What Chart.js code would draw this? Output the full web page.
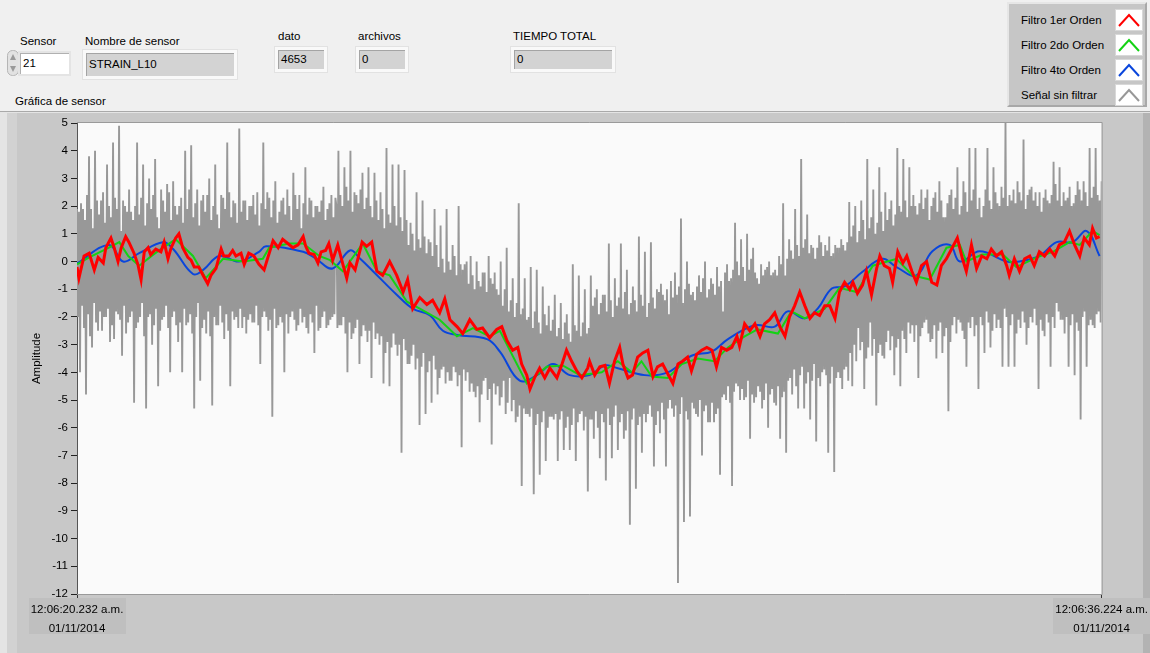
<!DOCTYPE html>
<html>
<head>
<meta charset="utf-8">
<title>Gráfica de sensor</title>
<script src="https://cdn.jsdelivr.net/npm/chart.js@4.4.1/dist/chart.umd.min.js"></script>
<style>
  html, body { margin: 0; padding: 0; }
  body {
    width: 1150px; height: 653px; overflow: hidden; position: relative;
    background: #f0f0f0; color: #000;
    font-family: 'Liberation Sans', Arial, sans-serif; font-size: 11.5px;
  }
  #chart { position: absolute; left: 0; top: 0; }
  .lbl { position: absolute; white-space: nowrap; line-height: 14px; }
  .ind {
    position: absolute; box-sizing: border-box; white-space: nowrap;
    background: #d3d3d3; border: 3px solid #f9f9f9;
    box-shadow: inset 1px 1px 0 #a4a4a4, 0 0 0 1px #e2e2e2;
    padding-left: 3px;
  }
  .ctl {
    position: absolute; box-sizing: border-box; background: #fff;
    border: 2px solid #e4e4e4; box-shadow: inset 1px 1px 0 #b0b0b0;
    padding-left: 3px; line-height: 20px;
  }
  #spin { position: absolute; left: 7px; top: 50px; }
  #legend {
    position: absolute; left: 1007px; top: 2px; width: 140px; height: 105px;
    box-sizing: border-box; background: #c6c6c6;
    border: 2px solid; border-color: #e6e6e6 #a8a8a8 #a8a8a8 #e6e6e6;
  }
  .row { position: absolute; left: 12px; height: 22px; width: 124px; }
  .row span { position: absolute; left: 0; top: 4px; line-height: 14px; }
  .row svg { position: absolute; left: 94px; top: 0; }
</style>
</head>
<body>

<div class="lbl" style="left:20px;top:34px">Sensor</div>
<svg id="spin" width="12" height="26">
  <rect x="0.5" y="0.5" width="11" height="25" rx="5" fill="#e2e2e2" stroke="#b5b5b5"/>
  <path d="M3 10 L6 4 L9 10 Z" fill="#9a9a9a"/>
  <path d="M3 16 L6 22 L9 16 Z" fill="#9a9a9a"/>
</svg>
<div class="ctl" style="left:18px;top:51px;width:53px;height:25px">21</div>

<div class="lbl" style="left:85px;top:34px">Nombre de sensor</div>
<div class="ind" style="left:83px;top:50px;width:154px;height:29px;line-height:22px">STRAIN_L10</div>

<div class="lbl" style="left:278px;top:29px">dato</div>
<div class="ind" style="left:275px;top:47px;width:52px;height:25px;line-height:18px">4653</div>

<div class="lbl" style="left:358px;top:29px">archivos</div>
<div class="ind" style="left:356px;top:47px;width:52px;height:25px;line-height:18px">0</div>

<div class="lbl" style="left:513px;top:29px">TIEMPO TOTAL</div>
<div class="ind" style="left:511px;top:47px;width:104px;height:25px;line-height:18px">0</div>

<div class="lbl" style="left:15px;top:94px">Gráfica de sensor</div>

<div id="legend"></div>

<canvas id="chart" width="1150" height="653"></canvas>

<script>
// Sensor graph: raw strain signal plus three filtered versions

const tiempoTotal = 15.992; // seconds between the two axis marks
const xTickLabels = [
  ['12:06:20.232 a.m.', '01/11/2014'],
  ['12:06:36.224 a.m.', '01/11/2014']
];
const seriesNames = ['Filtro 1er Orden', 'Filtro 2do Orden', 'Filtro 4to Orden', 'Señal sin filtrar'];
const seriesColors = ['#ff0000', '#14d214', '#0a46dc', '#989898'];

// Raw signal: the visible peaks, evenly spaced over the time span
const senalPicos = [
  1.9,-4.0,1.9,-4.8,3.8,-3.1,4.0,-2.5,2.2,-2.0,
  3.5,-2.9,4.3,-1.8,4.9,-3.4,2.0,-2.2,1.8,-5.1,
  4.3,-2.0,3.5,-5.3,3.0,-3.0,3.7,-4.5,2.6,-2.0,
  2.8,-4.0,2.9,-2.3,2.0,-4.0,4.0,-2.2,4.2,-5.3,
  2.6,-4.3,2.4,-2.6,3.0,-5.2,3.5,-2.3,2.4,-2.8,
  4.3,-4.5,2.2,-2.0,4.8,-2.4,2.2,-2.1,2.0,-2.2,
  2.5,-3.7,4.3,-2.0,2.3,-5.6,2.9,-2.3,2.2,-4.0,
  2.6,-2.0,3.2,-2.5,2.4,-2.2,3.4,-2.6,2.2,-3.3,
  2.0,-2.4,2.7,-2.4,2.1,-2.0,2.3,
  4.0,-2.3,3.4,-4.0,4.0,-2.6,2.4,-3.7,3.2,-2.5,
  3.4,-4.2,3.2,-2.6,2.5,-4.4,4.1,-4.5,3.5,-3.0,
  3.5,-6.9,3.3,-3.7,1.4,-3.0,2.5,-5.9,2.2,-5.5,
  0.8,-5.1,1.9,-4.8,1.3,-3.8,1.9,-4.3,0.6,-4.0,
  2.0,-6.7,-0.1,-4.0,0.2,-4.7,0.0,-5.8,-0.4,-4.2,
  0.2,-6.6,-0.4,-4.5,0.0,-4.3,0.5,-4.2,-0.6,-5.8,
  2.1,-8.1,-0.6,-5.5,-0.2,-8.4,-0.3,-7.7,-0.9,-7.2,
  -1.6,-5.6,-1.2,-7.2,-1.5,-6.8,-1.9,-6.8,-0.1,-7.2,
  -0.5,-5.4,-1.0,-8.3,
  -0.5,-6.4,-1.0,-7.1,-1.2,-7.9,0.65,-7.1,-0.6,-6.8,
  0.65,-6.4,-0.3,-9.5,-0.9,-8.2,0.9,-6.9,0.35,-5.5,
  0.7,-7.4,-1.0,-6.2,-1.2,-7.4,-1.9,-5.3,-0.4,-11.6,
  1.55,-9.4,0.0,-9.2,-1.1,-5.5,-0.5,-7.0,0.0,-5.8,
  -0.6,-5.8,-0.2,-7.7,-1.8,-5.0,-0.7,-8.1,1.4,-4.5,
  0.8,-5.0,1.0,-6.4,0.5,-4.9,-0.8,-5.3,-0.3,-6.0,
  -0.5,-5.1,-0.5,-6.4,2.1,-6.9,0.8,-4.8,1.9,-5.3,
  3.7,-5.3,1.7,-5.7,0.5,-6.5,0.95,-4.0,0.6,-6.9,
  0.2,-7.6,0.5,-4.2,0.6,-3.8,
  2.15,-4.5,2.0,-2.4,2.2,-4.6,3.7,-2.2,2.6,-5.2,
  3.4,-3.4,2.5,-2.5,2.2,-4.1,4.1,-4.5,3.7,-3.3,
  3.4,-2.3,2.0,-4.2,2.6,-2.2,2.6,-2.9,2.3,-3.5,
  2.9,-3.3,1.6,-5.4,2.6,-2.0,3.4,-2.2,2.9,-3.8,
  4.1,-2.0,4.1,-4.6,1.6,-3.3,4.1,-3.1,3.4,-2.4,
  2.0,-3.8,5.0,-3.8,2.2,-3.8,2.9,-2.4,4.4,-3.0,
  2.6,-2.2,2.5,-4.6,1.8,-2.7,2.2,-3.8,3.6,-1.5,
  3.4,-2.1,2.2,-3.8,2.0,-4.1,2.9,-5.7,2.9,-3.8,
  4.1,-2.3,4.1,-1.8,2.9
];

// Raw signal between two peaks: upper and lower edge of the dense band
const bandaSup = [
  1.8,2.1,1.5,2.4,1.9,1.2,2.2,1.7,2.5,1.4,2.0,1.6,2.3,1.9,1.1,2.2,1.8,2.6,1.5,2.0,
  1.7,2.3,1.3,2.1,1.9,2.4,1.6,1.2,2.2,1.8,2.5,1.5,2.0,1.7,2.3,1.4,1.9,2.6,1.6,2.1,
  1.3,2.2,1.8,2.4,1.5,2.0,1.7,1.2,2.3,1.9,2.5,1.6,2.1,1.4,1.8,2.2,1.5,2.0,2.4,1.7,
  1.3,2.1,1.9,2.5,1.6,2.2,1.4,1.8,2.3,1.7,2.0,1.5,2.4,1.9,1.2,2.1,1.7,2.3,1.6,2.0,
  1.8,2.2,1.5,1.9,2.4,1.6,2.0,
  2.4,2.0,2.7,2.2,1.8,2.5,2.1,2.6,1.9,2.3,2.0,1.6,2.2,
  1.5,1.9,1.2,1.7,1.4,2.0,1.3,1.6,1.1,1.5,
  0.6,1.0,0.4,0.8,0.5,0.9,0.3,0.7,0.2,0.6,
  -0.2,0.1,-0.4,0.0,-0.3,0.2,-0.5,-0.1,-0.3,0.0,
  -0.8,-0.5,-1.0,-0.7,-0.9,-0.4,-1.1,-0.6,-0.8,-1.0,
  -1.2,-1.6,-1.0,-1.8,-1.4,-2.0,-1.5,-1.9,-1.7,-2.1,
  -2.0,-2.4,-1.8,-2.2,-2.6,-1.9,-2.3,-2.5,-2.1,-2.7,
  -2.4,-2.8,-2.2,-2.6,-2.9,-2.3,-2.5,-2.7,-2.2,-2.6,-2.4,
  -1.6,-1.3,-1.9,-1.5,-1.2,-1.8,-1.4,-2.0,-1.6,-1.3,-1.7,-1.1,-1.9,-1.5,-1.4,-1.8,-1.2,-1.6,-2.0,-1.5,-1.3,-1.7,
  -1.1,-0.8,-1.4,-1.0,-0.7,-1.3,-1.2,-0.9,-1.5,-1.0,-0.8,-1.2,-1.4,-0.9,-1.1,-0.6,-1.3,-1.0,-0.8,-1.2,-0.9,-0.7,
  -0.4,-0.1,-0.6,-0.3,0.0,-0.5,-0.2,-0.7,-0.3,0.1,-0.4,-0.6,-0.1,-0.5,-0.2,0.0,-0.4,-0.3,0.2,-0.1,-0.5,0.1,
  0.4,0.1,0.6,0.2,0.5,0.8,0.3,0.6,0.1,0.5,0.7,0.2,0.4,0.9,0.3,0.6,0.5,0.8,0.4,0.7,
  0.9,1.3,0.7,1.1,1.5,0.8,1.2,1.6,1.0,1.4,1.8,1.1,1.5,1.9,1.3,1.7,2.0,
  1.8,2.2,1.6,2.0,2.4,1.7,2.1,1.9,2.3,1.5,2.0,2.5,1.8,2.2,1.6,2.1,2.4,1.9,2.3,1.7,2.0,2.5,1.8,2.2,2.6,1.9,
  2.3,2.0,2.6,2.2,1.9,2.5,2.1,2.7,2.3,2.0,2.4,2.6,2.1,2.5,2.2,1.9,2.4,2.7,2.2,2.0,
  2.5,2.3,2.6,2.1,2.4,2.8,2.2,2.0,2.5,2.3,2.7,2.1,2.4,2.6,2.2,2.5,2.0,2.3,2.7,2.4,2.2
];
const bandaInf = [
  -2.0,-1.6,-2.4,-1.9,-2.7,-1.5,-2.2,-1.8,-2.5,-2.0,-1.7,-2.3,-2.8,-1.9,-2.1,-1.6,-2.6,-2.0,-1.8,-2.4,
  -2.2,-1.5,-2.7,-2.0,-1.9,-2.3,-1.7,-2.5,-2.1,-1.6,-2.4,-2.0,-1.8,-2.9,-2.2,-1.7,-2.3,-1.9,-2.6,-2.0,
  -1.5,-2.4,-2.1,-1.8,-2.7,-2.0,-2.3,-1.6,-2.2,-1.9,-2.5,-1.8,-2.1,-2.4,-1.7,-2.0,-2.6,-1.9,-2.2,-1.6,
  -2.3,-2.0,-1.8,-2.5,-2.1,-1.7,-2.4,-2.0,-2.2,-1.9,-2.6,-1.8,-2.1,-2.3,-1.7,-2.0,-2.4,-1.9,-2.2,-1.6,
  -2.5,-2.0,-1.8,-2.3,-2.1,-1.9,-2.4,
  -2.3,-2.0,-2.6,-2.2,-2.8,-2.4,-2.1,-2.7,-2.3,-2.9,-2.5,-2.2,-2.8,
  -3.0,-2.7,-3.3,-2.9,-3.1,-2.6,-3.4,-3.0,-2.8,-3.2,
  -3.7,-3.4,-3.9,-3.5,-3.8,-3.3,-4.0,-3.6,-3.4,-3.9,
  -4.2,-3.9,-4.4,-4.0,-4.3,-3.8,-4.5,-4.1,-3.9,-4.3,
  -4.7,-4.4,-4.9,-4.5,-4.8,-4.3,-5.0,-4.6,-4.4,-4.8,
  -5.2,-4.9,-5.5,-5.1,-5.4,-5.0,-5.6,-5.2,-5.3,-5.5,
  -5.6,-5.3,-5.9,-5.5,-5.8,-5.4,-6.0,-5.6,-5.7,-5.5,
  -5.7,-5.4,-6.0,-5.6,-5.9,-5.3,-5.8,-5.5,-6.1,-5.6,-5.7,
  -5.7,-5.4,-6.0,-5.5,-5.8,-5.3,-5.9,-5.6,-5.2,-5.8,-5.5,-6.1,-5.4,-5.7,-5.3,-5.9,-5.6,-5.5,-5.8,-5.2,-5.6,-5.9,
  -5.4,-5.1,-5.7,-5.3,-5.0,-5.6,-5.2,-5.5,-4.9,-5.4,-5.7,-5.1,-5.3,-5.6,-5.0,-5.4,-5.2,-5.8,-5.1,-5.5,-5.3,-4.9,
  -4.8,-4.5,-5.1,-4.7,-4.4,-5.0,-4.6,-4.9,-4.3,-4.8,-5.1,-4.5,-4.7,-5.0,-4.4,-4.8,-4.6,-5.2,-4.5,-4.9,-4.7,-4.3,
  -4.2,-3.9,-4.5,-4.1,-3.8,-4.4,-4.0,-4.3,-3.7,-4.2,-4.5,-3.9,-4.1,-4.4,-3.8,-4.2,-4.0,-4.6,-3.9,-4.3,
  -3.3,-3.0,-3.6,-3.2,-2.9,-3.5,-3.1,-3.4,-2.8,-3.3,-3.0,-3.5,-2.9,-3.2,-2.7,-3.1,-2.8,
  -2.5,-2.8,-2.2,-2.6,-2.9,-2.3,-2.7,-2.4,-2.1,-2.6,-2.8,-2.3,-2.5,-2.2,-2.7,-2.4,-2.9,-2.3,-2.6,-2.1,-2.5,-2.8,-2.2,-2.4,-2.7,-2.3,
  -2.0,-2.3,-1.8,-2.2,-2.5,-1.9,-2.1,-2.4,-1.7,-2.0,-2.3,-1.9,-2.6,-2.1,-1.8,-2.2,-2.4,-2.0,-1.7,-2.3,
  -2.1,-2.5,-1.9,-2.2,-2.0,-2.4,-1.8,-2.1,-2.6,-2.0,-2.3,-1.9,-2.2,-2.5,-2.0,-1.8,-2.3,-2.1,-2.4,-1.9,-2.2
];

// Filtered signals as [seconds, amplitude]
const filtro1erOrden = [
  [0,-0.2],[0.03,-0.6],[0.11,0.2],[0.19,0.3],[0.27,-0.3],[0.33,0.15],[0.41,-0.05],[0.45,0.5],
  [0.53,0.85],[0.58,0.5],[0.64,0],[0.69,0.5],[0.76,0.9],[0.81,0.7],[0.89,0.3],[0.95,-0.1],
  [1.00,-0.65],[1.05,0.35],[1.11,0.5],[1.15,0.25],[1.23,0.45],[1.31,0.35],[1.36,0.7],[1.42,0.1],
  [1.47,0.5],[1.54,0.85],[1.59,1.0],[1.65,0.5],[1.73,0.15],[1.78,0.05],[1.83,-0.2],[1.90,-0.2],
  [1.98,-0.55],[2.04,-0.8],[2.09,-0.5],[2.17,-0.25],[2.25,0.45],[2.29,0.2],[2.37,0.2],[2.43,0.4],
  [2.48,0.2],[2.56,0.3],[2.61,-0.1],[2.68,0.3],[2.76,0.2],[2.84,-0.1],[2.92,-0.3],[2.98,0.15],
  [3.06,0.75],[3.14,0.5],[3.21,0.8],[3.29,0.65],[3.37,0.5],[3.45,0.6],[3.53,0.9],[3.57,0.55],
  [3.62,0.3],[3.70,0.25],[3.76,-0.05],[3.81,0.35],[3.88,0.4],[3.93,0.65],[3.99,0.05],[4.07,0.6],
  [4.15,-0.1],[4.21,-0.6],[4.26,-0.05],[4.34,-0.3],[4.45,0.7],[4.52,0.55],[4.60,0.7],[4.68,-0.35],
  [4.77,-0.5],[4.88,0],[4.99,-0.5],[5.09,-1.1],[5.16,-0.65],[5.24,-1.7],[5.35,-1.3],[5.46,-1.55],
  [5.55,-1.4],[5.66,-1.85],[5.74,-1.35],[5.82,-2.1],[5.93,-2.35],[6.02,-2.6],[6.13,-2.1],[6.24,-2.45],
  [6.33,-2.4],[6.44,-2.75],[6.55,-2.45],[6.63,-2.35],[6.71,-2.85],[6.80,-3.2],[6.88,-3.1],[6.94,-3.7],
  [7.02,-4.1],[7.07,-4.6],[7.14,-4.2],[7.22,-3.85],[7.30,-4.2],[7.38,-3.85],[7.49,-4.2],[7.57,-3.7],
  [7.64,-3.2],[7.72,-3.6],[7.80,-3.95],[7.88,-4.2],[7.97,-3.85],[8.00,-3.6],[8.08,-4.1],[8.16,-3.8],
  [8.24,-3.75],[8.31,-4.4],[8.39,-3.6],[8.47,-3.1],[8.52,-3.7],[8.60,-4.2],[8.67,-4.1],[8.75,-3.45],
  [8.83,-3.3],[8.91,-3.2],[8.99,-4.15],[9.06,-3.8],[9.14,-3.7],[9.22,-4.05],[9.30,-4.4],[9.38,-3.7],
  [9.45,-3.6],[9.53,-3.45],[9.59,-3.95],[9.67,-3.35],[9.75,-3.2],[9.83,-3.1],[9.91,-3.2],[9.98,-3.8],
  [10.06,-3.1],[10.14,-3.2],[10.22,-3.1],[10.30,-2.7],[10.34,-3.05],[10.42,-2.25],[10.50,-2.5],[10.58,-2.25],
  [10.66,-2.7],[10.73,-2.25],[10.81,-2.1],[10.89,-1.85],[10.97,-2.35],[11.05,-2.7],[11.12,-2.0],[11.20,-1.6],
  [11.28,-1.1],[11.36,-1.6],[11.44,-2.05],[11.51,-1.85],[11.59,-1.95],[11.67,-1.6],[11.75,-1.6],[11.83,-2.05],
  [11.90,-1.1],[11.98,-0.75],[12.06,-1.0],[12.11,-0.75],[12.18,-1.15],[12.26,-0.85],[12.32,-0.35],[12.40,-1.2],
  [12.48,-0.25],[12.53,0.2],[12.60,-0.15],[12.68,-0.25],[12.73,-0.75],[12.81,0.35],[12.89,-0.05],[12.95,0.2],
  [13.03,-0.35],[13.10,-0.75],[13.18,-0.15],[13.26,0],[13.34,-0.75],[13.42,-0.85],[13.49,-0.15],[13.57,0.1],
  [13.65,0.45],[13.74,0.85],[13.82,0.1],[13.88,-0.35],[13.96,0.6],[14.04,-0.25],[14.12,0.2],[14.20,0.1],
  [14.27,0.45],[14.35,0.2],[14.43,0.35],[14.51,-0.15],[14.55,-0.5],[14.63,0.1],[14.71,-0.35],[14.79,0.1],
  [14.87,0.2],[14.94,-0.15],[15.02,0.35],[15.10,0.2],[15.18,0.45],[15.26,0.2],[15.33,0.6],[15.41,0.7],
  [15.49,1.1],[15.57,0.6],[15.65,0.2],[15.72,0.85],[15.80,0.6],[15.85,1.2],[15.91,0.85],[15.96,0.9]
];

const filtro2doOrden = [
  [0,-0.1],[0.19,0.15],[0.50,0.5],[0.66,0.7],[0.80,0.2],[0.97,-0.15],[1.19,0.25],[1.34,0.5],
  [1.54,0.8],[1.81,0.2],[2.01,-0.6],[2.28,0.1],[2.59,0],[2.90,0.1],[3.00,0.5],[3.31,0.65],
  [3.53,0.65],[3.78,0.2],[3.95,0.05],[4.15,-0.35],[4.46,0.65],[4.68,-0.35],[4.88,-0.5],[5.15,-1.45],
  [5.35,-1.7],[5.66,-2.1],[5.93,-2.7],[6.18,-2.4],[6.44,-2.7],[6.60,-2.5],[7.02,-4.4],[7.33,-3.8],
  [7.58,-3.75],[7.85,-4.1],[8.19,-4.0],[8.44,-3.6],[8.66,-4.0],[8.81,-3.6],[8.97,-4.15],[9.22,-4.2],
  [9.44,-3.7],[9.69,-3.5],[9.95,-3.6],[10.16,-3.1],[10.42,-2.7],[10.62,-2.45],[10.94,-2.6],[11.15,-1.8],
  [11.36,-2.05],[11.67,-1.7],[11.90,-0.95],[12.17,-1.1],[12.42,-0.15],[12.79,0.1],[13.04,-0.5],[13.31,-0.65],
  [13.57,0.5],[13.78,0.6],[13.88,0],[14.13,0.25],[14.45,0.25],[14.66,-0.2],[14.98,0.15],[15.23,0.35],
  [15.49,0.7],[15.65,0.6],[15.85,1.1],[15.96,0.95]
];

const filtro4toOrden = [
  [0,-0.07],[0.50,0.6],[0.72,0],[0.97,0.3],[1.34,0.7],[1.50,0.45],[1.81,-0.45],[1.97,-0.3],
  [2.22,0.2],[2.53,0],[2.84,0.35],[2.95,0.55],[3.53,0.35],[3.73,0.1],[3.99,-0.25],[4.26,0.4],
  [4.42,0.1],[4.62,-0.35],[4.99,-1.2],[5.24,-1.7],[5.51,-1.95],[5.71,-2.5],[5.93,-2.65],[6.40,-2.8],
  [6.60,-3.25],[6.91,-4.3],[7.18,-4.1],[7.43,-3.7],[7.69,-4.1],[8.00,-4.1],[8.24,-3.75],[8.44,-3.85],
  [8.86,-4.1],[9.22,-4.0],[9.59,-3.4],[9.91,-3.25],[10.16,-2.8],[10.58,-2.3],[10.89,-2.35],[11.09,-1.8],
  [11.36,-2.05],[11.56,-1.7],[11.78,-0.97],[11.98,-0.9],[12.26,-0.37],[12.57,0.1],[12.79,-0.2],[13.10,-0.5],
  [13.35,0.37],[13.62,0.6],[13.78,0],[14.09,0.37],[14.51,0],[14.71,0],[15.02,0.2],[15.29,0.7],
  [15.54,0.7],[15.76,1.1],[15.96,0.2]
];

const toPoints = pairs => pairs.map(([t, v]) => ({ x: t, y: v }));

// Raw samples: each peak followed by the two band edges, ordered so the trace keeps swinging
const muestras = [];
senalPicos.forEach((v, k) => {
  muestras.push(v);
  if (k < bandaSup.length) {
    const bajando = v > senalPicos[k + 1];
    muestras.push(bajando ? bandaInf[k] : bandaSup[k], bajando ? bandaSup[k] : bandaInf[k]);
  }
});
const rawPoints = muestras.map((v, i) => ({ x: i * tiempoTotal / (muestras.length - 1), y: v }));

const fontFamily = "'Liberation Sans', Arial, sans-serif";

// Frame, plot background, time label boxes and plot border in the LabVIEW look
const panelPlugin = {
  id: 'panel',
  beforeDraw(chart) {
    const { ctx, chartArea: a } = chart;
    ctx.save();
    ctx.fillStyle = '#e4e4e4';
    ctx.fillRect(0, 111, 1150, 542);
    ctx.fillStyle = '#d2d2d2';
    ctx.fillRect(7, 113, 1143, 540);
    ctx.fillStyle = '#c8c8c8';
    ctx.fillRect(17, 113, 1126, 540);
    ctx.fillStyle = '#b3b3b3';
    ctx.fillRect(1143, 113, 7, 540);
    ctx.fillStyle = '#a9a9a9';
    ctx.fillRect(0, 111, 1150, 1);
    ctx.fillStyle = '#fafafa';
    ctx.fillRect(a.left, a.top, a.right - a.left, a.bottom - a.top);

    // darker box behind each time label
    const xs = chart.scales.x;
    ctx.font = '11.5px ' + fontFamily;
    ctx.fillStyle = '#bfbfbf';
    xs.ticks.forEach((tick, i) => {
      const lines = xTickLabels[i];
      const w = Math.max(...lines.map(l => ctx.measureText(l).width)) + 4;
      const cx = xs.getPixelForValue(tick.value);
      ctx.fillRect(Math.round(cx - w / 2), xs.top + 4, Math.round(w), 36);
    });
    ctx.restore();
  },
  afterDraw(chart) {
    const { ctx, chartArea: a } = chart;
    ctx.save();
    ctx.strokeStyle = '#9a9a9a';
    ctx.lineWidth = 1;
    ctx.beginPath();
    ctx.moveTo(a.left, a.top - 0.5);
    ctx.lineTo(a.right + 0.5, a.top - 0.5);
    ctx.lineTo(a.right + 0.5, a.bottom + 0.5);
    ctx.lineTo(a.left, a.bottom + 0.5);
    ctx.stroke();
    ctx.restore();
  }
};

Chart.defaults.font.family = fontFamily;
Chart.defaults.font.size = 11.5;
Chart.defaults.color = '#000';

const chart = new Chart(document.getElementById('chart'), {
  type: 'line',
  data: {
    datasets: [
      { label: seriesNames[0], data: toPoints(filtro1erOrden), borderColor: seriesColors[0], borderWidth: 3, tension: 0 },
      { label: seriesNames[1], data: toPoints(filtro2doOrden), borderColor: seriesColors[1], borderWidth: 2, tension: 0 },
      { label: seriesNames[2], data: toPoints(filtro4toOrden), borderColor: seriesColors[2], borderWidth: 2, tension: 0.4 },
      { label: seriesNames[3], data: rawPoints, borderColor: seriesColors[3], borderWidth: 1.9, borderJoinStyle: 'bevel', tension: 0 }
    ]
  },
  options: {
    responsive: false,
    devicePixelRatio: 1,
    animation: false,
    events: [],
    elements: { point: { radius: 0 } },
    layout: { padding: { top: 123, right: 48, bottom: 0, left: 0 } },
    plugins: {
      legend: { display: false },
      tooltip: { enabled: false }
    },
    scales: {
      x: {
        type: 'linear',
        min: 0,
        max: tiempoTotal,
        afterBuildTicks: scale => { scale.ticks = [{ value: 0 }, { value: tiempoTotal }]; },
        afterFit: scale => { scale.height = 59; },
        grid: { drawOnChartArea: false, tickLength: 4, tickColor: '#333' },
        border: { display: false },
        ticks: {
          autoSkip: false,
          maxRotation: 0,
          padding: 2,
          font: { size: 11.5, lineHeight: 1.65 },
          callback: (value, index) => xTickLabels[index]
        }
      },
      y: {
        min: -12,
        max: 5,
        afterFit: scale => { scale.width = 77; },
        grid: { drawOnChartArea: false, tickLength: 6, tickColor: '#222' },
        border: { display: true, color: '#555', width: 1 },
        ticks: { stepSize: 1, padding: 3, callback: value => String(value) },
        title: {
          display: true,
          text: 'Amplitude',
          font: { size: 11.5 },
          padding: { top: 30, bottom: 0 }
        }
      }
    }
  },
  plugins: [panelPlugin]
});

// Legend built from the datasets, with the chevron swatch LabVIEW uses
const legendEl = document.getElementById('legend');
chart.data.datasets.forEach((ds, i) => {
  const row = document.createElement('div');
  row.className = 'row';
  row.style.top = (5 + i * 25) + 'px';
  row.innerHTML =
    '<span>' + ds.label + '</span>' +
    '<svg width="28" height="22">' +
    '<rect x="0.5" y="0.5" width="27" height="21" fill="#fff" stroke="#d8d8d8"/>' +
    '<polyline points="4,17 14,6 24,17" fill="none" stroke="' + ds.borderColor + '" stroke-width="2"/>' +
    '</svg>';
  legendEl.appendChild(row);
});
</script>
</body>
</html>
